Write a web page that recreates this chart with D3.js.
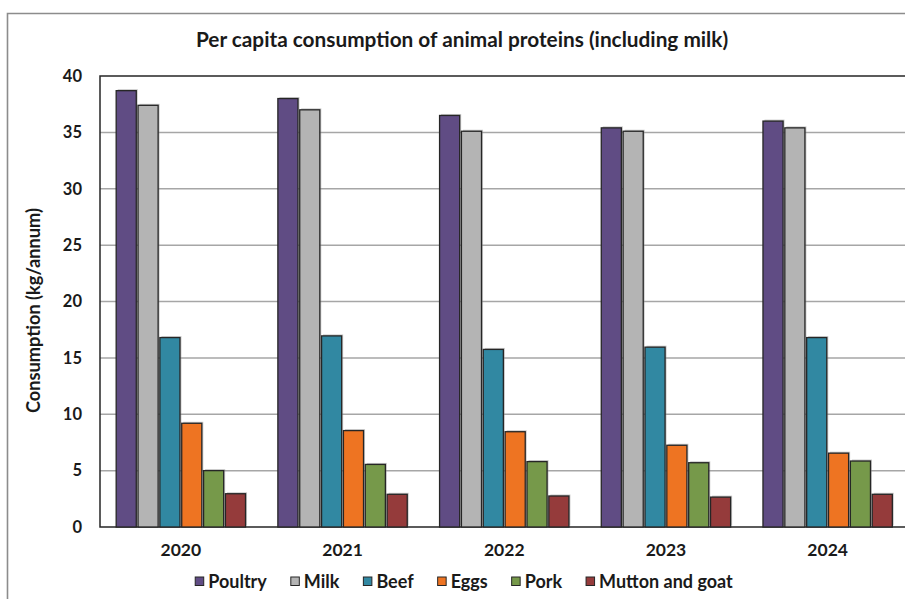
<!DOCTYPE html>
<html>
<head>
<meta charset="utf-8">
<script src="https://cdn.jsdelivr.net/npm/d3@7"></script>
<style>
  html, body { margin: 0; padding: 0; background: #fff; }
  svg { display: block; font-family: Lato, "Open Sans", sans-serif; }
</style>
</head>
<body>
<svg id="chart" width="905" height="599"></svg>
<script>
// Per capita consumption, kg per person per year
const years = ["2020", "2021", "2022", "2023", "2024"];
const seriesNames = ["Poultry", "Milk", "Beef", "Eggs", "Pork", "Mutton and goat"];
const seriesColors = ["#604c84", "#b4b4b4", "#3188a2", "#ee7422", "#76994a", "#953b3b"];
const poultry = [38.7, 38.0, 36.5, 35.4, 36.0];
const milk    = [37.4, 37.0, 35.1, 35.1, 35.4];
const beef    = [16.8, 16.95, 15.75, 15.95, 16.8];
const eggs    = [9.2, 8.55, 8.45, 7.25, 6.55];
const pork    = [5.0, 5.55, 5.8, 5.7, 5.85];
const mutton  = [2.95, 2.9, 2.75, 2.65, 2.9];
const yTicks  = [0, 5, 10, 15, 20, 25, 30, 35, 40];

const seriesValues = [poultry, milk, beef, eggs, pork, mutton];
const rows = years.map((y, i) => ({
  year: y,
  values: seriesNames.map((s, k) => ({ key: s, value: seriesValues[k][i], color: seriesColors[k] }))
}));

const svg = d3.select("#chart");
const plot = { left: 100, top: 76, bottom: 527, right: 908.5 };

// outer chart frame
svg.append("path")
  .attr("d", `M7.5,${plot.bottom + 80} V13.5 H910`)
  .attr("fill", "none").attr("stroke", "#8c8c8c").attr("stroke-width", 1.6);

svg.append("text")
  .attr("x", 462).attr("y", 47)
  .attr("text-anchor", "middle")
  .attr("font-size", 20.8).attr("font-weight", 700).attr("fill", "#1a1a1a")
  .text("Per capita consumption of animal proteins (including milk)");

const x0 = d3.scaleBand().domain(years).range([plot.left, plot.right]).padding(0);
const x1 = d3.scaleBand().domain(seriesNames)
  .range([x0.bandwidth() * 0.1, x0.bandwidth() * 0.9]).paddingInner(0.08);
const y = d3.scaleLinear().domain([0, 40]).range([plot.bottom, plot.top]);

// horizontal gridlines
svg.append("g")
  .selectAll("line").data(yTicks.filter(t => t > 0 && t < 40)).join("line")
  .attr("x1", plot.left).attr("x2", 905)
  .attr("y1", d => y(d)).attr("y2", d => y(d))
  .attr("stroke", "#a6a6a6").attr("stroke-width", 1.5);

// plot frame: top, left and baseline
svg.append("path")
  .attr("d", `M905,${plot.top} H${plot.left} V${plot.bottom} H905`)
  .attr("fill", "none").attr("stroke", "#262626").attr("stroke-width", 1.5);

// y axis tick labels
const yAxis = d3.axisLeft(y).tickValues(yTicks).tickSize(0).tickPadding(18);
const yg = svg.append("g").attr("transform", `translate(${plot.left},0)`).call(yAxis);
yg.select(".domain").remove();
yg.selectAll("text")
  .attr("font-family", "Lato, sans-serif")
  .attr("font-size", 16.5).attr("font-weight", 700).attr("fill", "#1a1a1a");

svg.append("text")
  .attr("transform", `translate(40,${(plot.top + plot.bottom) / 2 + 9}) rotate(-90)`)
  .attr("text-anchor", "middle")
  .attr("font-size", 18.2).attr("font-weight", 700).attr("fill", "#1a1a1a")
  .text("Consumption (kg/annum)");

// bars
const groups = svg.append("g").selectAll("g").data(rows).join("g")
  .attr("transform", d => `translate(${x0(d.year)},0)`);

groups.selectAll("rect.shadow").data(d => d.values).join("rect")
  .attr("class", "shadow")
  .attr("x", d => x1(d.key) + 1.5)
  .attr("y", d => y(d.value) - 1.5)
  .attr("width", x1.bandwidth())
  .attr("height", d => y(0) - y(d.value))
  .attr("fill", "#8a8a8a").attr("opacity", 0.45);

groups.selectAll("rect.bar").data(d => d.values).join("rect")
  .attr("class", "bar")
  .attr("x", d => x1(d.key))
  .attr("y", d => y(d.value))
  .attr("width", x1.bandwidth())
  .attr("height", d => y(0) - y(d.value))
  .attr("fill", d => d.color)
  .attr("stroke", "#262626").attr("stroke-width", 1.3);

// x axis labels
const xAxis = d3.axisBottom(x0).tickSize(0).tickPadding(17);
const xg = svg.append("g").attr("transform", `translate(0,${plot.bottom})`).call(xAxis);
xg.select(".domain").remove();
xg.selectAll("text")
  .attr("font-family", "Lato, sans-serif")
  .attr("font-size", 17.5).attr("font-weight", 700).attr("fill", "#1a1a1a");

// legend, laid out from measured label widths and centred under the plot
const legend = svg.append("g");
let lx = 0;
seriesNames.forEach((name, k) => {
  const item = legend.append("g").attr("transform", `translate(${lx},0)`);
  item.append("rect")
    .attr("x", 0).attr("y", -5).attr("width", 8.5).attr("height", 8.5)
    .attr("fill", seriesColors[k]).attr("stroke", "#262626").attr("stroke-width", 1);
  const t = item.append("text")
    .attr("x", 13).attr("y", 6)
    .attr("font-size", 18).attr("font-weight", 700).attr("fill", "#1a1a1a")
    .text(name);
  lx += 13 + t.node().getComputedTextLength() + (k < seriesNames.length - 1 ? 24 : 0);
});
legend.attr("transform", `translate(${464 - lx / 2},582)`);
</script>
</body>
</html>
